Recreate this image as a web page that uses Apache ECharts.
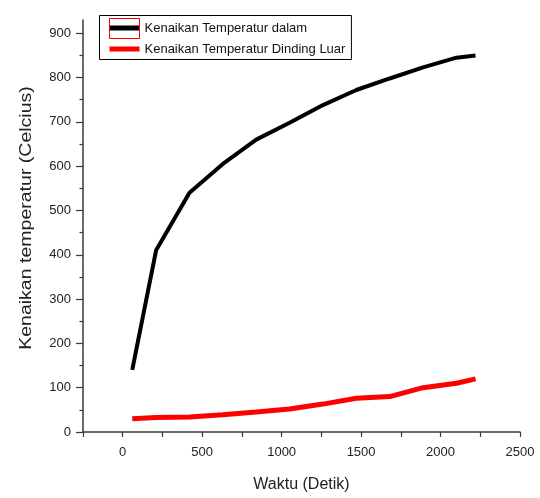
<!DOCTYPE html>
<html>
<head>
<meta charset="utf-8">
<script src="https://cdn.jsdelivr.net/npm/echarts@6/dist/echarts.min.js"></script>
<style>
  html, body { margin: 0; padding: 0; background: #fff; }
  #chart { width: 540px; height: 498px; }
</style>
</head>
<body>
<div id="chart"></div>
<script>
// Waktu pengukuran (detik)
var waktu = [60, 210, 420, 630, 840, 1050, 1260, 1470, 1680, 1890, 2100, 2220];
// Kenaikan temperatur dalam (Celcius)
var tempDalam = [140, 410, 540, 605, 660, 698, 738, 772, 798, 823, 845, 850];
// Kenaikan temperatur dinding luar (Celcius)
var tempLuar = [30, 33, 34, 39, 45, 52, 63, 76, 80, 100, 110, 120];

var xMajor = [0, 500, 1000, 1500, 2000, 2500];
var xMinor = [-250, 250, 750, 1250, 1750, 2250];
var yMajor = [0, 100, 200, 300, 400, 500, 600, 700, 800, 900];
var yMinor = [50, 150, 250, 350, 450, 550, 650, 750, 850];

var seriesNames = ['Kenaikan Temperatur dalam', 'Kenaikan Temperatur Dinding Luar'];

function pairs(xs, ys) {
  return xs.map(function (x, i) { return [x, ys[i]]; });
}
function plain(v) { return String(v); }

var labelFont = '"Liberation Sans", Arial, sans-serif';
var axisColor = '#3a3a3a';

var chart = echarts.init(document.getElementById('chart'), null, { renderer: 'canvas' });

chart.setOption({
  animation: false,
  backgroundColor: '#ffffff',
  grid: { left: 83, right: 20, top: 20, bottom: 65.5, containLabel: false },
  legend: {
    orient: 'vertical',
    left: 99.5,
    top: 15.5,
    padding: [6, 6, 4, 10],
    itemGap: 8,
    itemWidth: 30,
    itemHeight: 5,
    borderColor: '#000',
    borderWidth: 1,
    backgroundColor: '#fff',
    icon: 'rect',
    textStyle: { fontFamily: labelFont, fontSize: 13, color: '#111' },
    data: seriesNames
  },
  xAxis: [{
    type: 'value',
    min: -250,
    max: 2500,
    splitLine: { show: false },
    axisLine: { onZero: false, lineStyle: { color: axisColor, width: 1.5 } },
    axisTick: { show: true, inside: false, length: 5, customValues: xMajor, lineStyle: { color: axisColor, width: 1.2 } },
    axisLabel: { customValues: xMajor, formatter: plain, margin: 14, color: '#222', fontFamily: labelFont, fontSize: 13 },
    name: 'Waktu (Detik)',
    nameLocation: 'middle',
    nameGap: 45,
    nameTextStyle: { fontFamily: labelFont, fontSize: 16, color: '#222' }
  }, {
    type: 'value',
    position: 'bottom',
    min: -250,
    max: 2500,
    splitLine: { show: false },
    axisLine: { show: false, onZero: false },
    axisTick: { show: true, inside: false, length: 5, customValues: xMinor, lineStyle: { color: axisColor, width: 1.2 } },
    axisLabel: { show: false }
  }],
  yAxis: [{
    type: 'value',
    min: 0,
    max: 930,
    splitLine: { show: false },
    axisLine: { show: true, onZero: false, lineStyle: { color: axisColor, width: 1.5 } },
    axisTick: { show: true, inside: false, length: 7, customValues: yMajor, lineStyle: { color: axisColor, width: 1.2 } },
    axisLabel: { customValues: yMajor, formatter: plain, margin: 12, color: '#222', fontFamily: labelFont, fontSize: 13 }
  }, {
    type: 'value',
    position: 'left',
    min: 0,
    max: 930,
    splitLine: { show: false },
    axisLine: { show: false, onZero: false },
    axisTick: { show: true, inside: false, length: 3.5, customValues: yMinor, lineStyle: { color: axisColor, width: 1.2 } },
    axisLabel: { show: false }
  }],
  graphic: [{
    type: 'text',
    x: 27,
    y: 218,
    rotation: Math.PI / 2,
    scaleX: 1.22,
    style: {
      text: 'Kenaikan temperatur (Celcius)',
      font: '16px "Liberation Sans", Arial, sans-serif',
      fill: '#222',
      align: 'center',
      verticalAlign: 'middle'
    }
  }, {
    type: 'rect',
    z: 100,
    shape: { x: 109.5, y: 18.5, width: 30, height: 20 },
    style: { fill: 'none', stroke: '#ff0000', lineWidth: 1 }
  }],
  series: [{
    name: seriesNames[0],
    type: 'line',
    xAxisIndex: 0,
    yAxisIndex: 0,
    data: pairs(waktu, tempDalam),
    showSymbol: false,
    symbol: 'none',
    lineStyle: { color: '#000000', width: 4 },
    itemStyle: { color: '#000000' }
  }, {
    name: seriesNames[1],
    type: 'line',
    xAxisIndex: 0,
    yAxisIndex: 0,
    data: pairs(waktu, tempLuar),
    showSymbol: false,
    symbol: 'none',
    lineStyle: { color: '#ff0000', width: 5 },
    itemStyle: { color: '#ff0000' }
  }]
});
</script>
</body>
</html>
